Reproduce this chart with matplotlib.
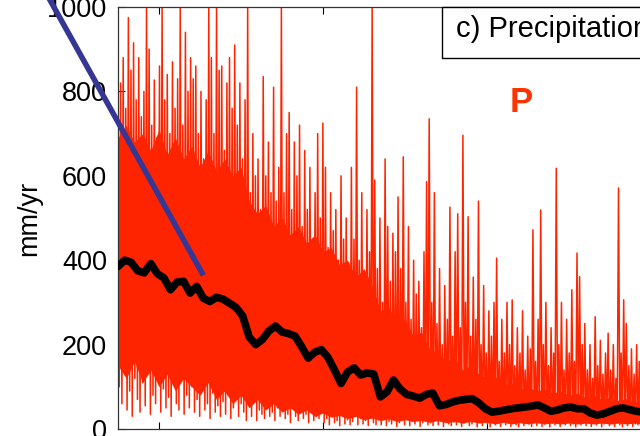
# Precipitation panel c) - noisy series with smoothed curve

import numpy as np
import matplotlib.pyplot as plt
from matplotlib.patches import Rectangle

plt.rcParams["font.family"] = ["Liberation Sans", "DejaVu Sans"]

# upper ends of the red strokes, left to right (mm/yr)
P_Tops = [
    700, 820, 880, 760, 975, 850, 915, 780, 880, 740,
    800, 1000, 900, 720, 827, 690, 860, 1000, 780, 840,
    700, 870, 760, 830, 1000, 720, 940, 800, 880, 830,
    860, 700, 800, 640, 780, 1000, 880, 700, 1000, 850,
    860, 660, 820, 880, 760, 910, 720, 820, 640, 780,
    1000, 560, 700, 600, 640, 520, 835, 600, 680, 560,
    810, 540, 620, 1000, 560, 700, 750, 520, 680, 600,
    720, 480, 660, 520, 620, 450, 560, 700, 500, 725,
    620, 430, 560, 470, 520, 400, 600, 450, 500, 380,
    620, 450, 810, 400, 560, 360, 520, 420, 1000, 590,
    380, 500, 300, 640, 480, 350, 464, 420, 550, 380,
    645, 300, 480, 260, 400, 320, 350, 240, 420, 586,
    735, 300, 560, 250, 380, 200, 340, 260, 526, 220,
    420, 510, 240, 696, 300, 503, 220, 360, 260, 540,
    200, 340, 180, 280, 220, 300, 405, 160, 260, 180,
    300, 200, 306, 150, 240, 180, 280, 140, 220, 190,
    472, 160, 260, 519, 200, 300, 150, 240, 180, 618,
    200, 300, 140, 260, 180, 330, 160, 417, 361, 200,
    250, 140, 200, 120, 266, 150, 210, 130, 180, 227,
    140, 200, 120, 571, 180, 306, 250, 150, 190, 130,
    200, 160, 240, 120, 180, 150, 220, 140, 190, 160,
]

# lower ends of the red strokes (mm/yr)
P_Bottoms = [
    100, 60, 150, 45, 90, 30, 120, 70, 40, 110,
    55, 130, 35, 80, 60, 140, 40, 95, 50, 75,
    30, 110, 60, 45, 125, 35, 80, 50, 100, 40,
    70, 30, 95, 45, 60, 25, 85, 40, 55, 30,
    65, 35, 80, 25, 50, 90, 30, 60, 40, 20,
    55, 30, 70, 20, 45, 35, 25, 60, 30, 40,
    20, 50, 30, 45, 25, 35, 15, 50, 30, 20,
    40, 25, 35, 15, 45, 20, 30, 25, 40, 15,
    25, 10, 30, 15, 20, 8, 35, 12, 22, 10,
    18, 30, 10, 25, 12, 20, 8, 28, 15, 10,
    22, 10, 30, 8, 18, 12, 25, 6, 15, 20,
    10, 25, 8, 18, 12, 22, 6, 15, 20, 10,
    15, 8, 22, 10, 18, 6, 25, 12, 8, 16,
    10, 20, 6, 14, 22, 8, 12, 18, 5, 15,
    8, 18, 12, 5, 20, 10, 15, 6, 22, 10,
    14, 6, 18, 10, 5, 16, 8, 20, 12, 6,
    15, 8, 20, 6, 12, 18, 5, 14, 10, 22,
    6, 16, 10, 20, 8, 12, 5, 18, 10, 14,
    8, 20, 6, 14, 10, 18, 5, 12, 16, 8,
    12, 6, 18, 10, 5, 15, 8, 20, 6, 12,
    10, 16, 6, 14, 8, 18, 5, 12, 10, 15,
]

# dense band where the red strokes merge (every 0.5 time units)
Core_Upper = [
    690, 720, 680, 700, 660, 710, 650, 690, 640, 670,
    620, 660, 610, 640, 600, 620, 540, 510, 530, 480,
    500, 460, 480, 440, 460, 420, 430, 390, 400, 360,
    380, 340, 280, 290, 250, 260, 220, 230, 190, 180,
    160, 170, 140, 150, 130, 120, 125, 105, 110, 95,
    100, 90, 95, 85, 90, 80, 85, 75, 80, 70,
    75, 68, 72, 65, 70, 65, 68,
]
Core_Lower = [
    150, 120, 160, 110, 140, 100, 130, 90, 120, 100,
    80, 110, 70, 90, 60, 80, 50, 70, 45, 60,
    40, 50, 35, 45, 30, 38, 28, 32, 25, 30,
    22, 26, 20, 24, 18, 22, 18, 20, 16, 20,
    15, 18, 14, 18, 14, 16, 12, 16, 12, 15,
    12, 15, 12, 14, 12, 14, 12, 14, 12, 14,
    12, 14, 12, 14, 12, 14, 12,
]

# smoothed precipitation (black curve), one value every 0.4 time units
P_Smooth = [
    385, 400, 395, 375, 370, 392, 368, 358, 330, 348,
    350, 322, 338, 310, 302, 312, 308, 298, 288, 268,
    218, 200, 212, 232, 244, 230, 226, 220, 195, 168,
    182, 188, 170, 140, 108, 135, 145, 128, 133, 130,
    76, 88, 116, 95, 82, 78, 73, 82, 85, 55,
    58, 64, 68, 70, 72, 62, 48, 40, 42, 45,
    48, 50, 52, 54, 57, 50, 42, 45, 50, 52,
    48, 48, 38, 33, 36, 42, 48, 50, 46, 42,
    40, 40, 42, 40,
]

# straight blue marker line (start / end)
Blue_X = [2.5, 12.62]
Blue_Y = [1076, 370]

Title = "c) Precipitation"
Red = "#ff2400"

# time axis of the samples
T_Start, T_End = 7.5, 40.55
N = len(P_Tops)
T_Tops = np.linspace(T_Start, T_End, N)
dT = T_Tops[1] - T_Tops[0]
T_Bottoms = T_Tops + dT / 2

T_Red = np.column_stack([T_Tops, T_Bottoms]).ravel()
P_Red = np.column_stack([P_Tops, P_Bottoms]).ravel()

T_Core = T_Start + 0.5 * np.arange(len(Core_Upper))
T_Smooth = T_Start + 0.4 * np.arange(len(P_Smooth))


fig = plt.figure(figsize= (6.4, 4.36), dpi= 100)
ax = fig.add_axes([118 / 640, 7 / 436, 542 / 640, 422 / 436])

ax.fill_between(T_Core, Core_Lower, Core_Upper, color= Red, linewidth= 0, zorder= 2)
ax.plot(T_Red, P_Red, color= Red, linewidth= 1.1, zorder= 2)
ax.plot(T_Smooth, P_Smooth, color= "black", linewidth= 5.5, solid_capstyle= "round", zorder= 3)
ax.plot(Blue_X, Blue_Y, color= "#363795", linewidth= 4, clip_on= False, zorder= 4)

ax.set_xlim(T_Start, T_End)
ax.set_ylim(0, 1000)
ax.set_xticks([10, 20, 30, 40])
ax.set_yticks([0, 200, 400, 600, 800, 1000])

ax.tick_params(direction= "in", length= 5, width= 0.8, labelsize= 19.5, pad= 8,
               top= True, right= True, labelbottom= False)
for side in ax.spines.values():
    side.set_color("#333333")
    side.set_linewidth(0.9)

ax.set_ylabel("mm/yr", fontsize= 19.5)
ax.yaxis.set_label_coords(-0.14, 0.5)

# title box in the top right corner
box = Rectangle((0.598, 0.879), 0.6, 0.121, transform= ax.transAxes,
                facecolor= "white", edgecolor= "black", linewidth= 1.0,
                clip_on= False, zorder= 5)
ax.add_patch(box)
ax.text(0.6236, 0.929, Title, transform= ax.transAxes, fontsize= 21,
        ha= "left", va= "baseline", zorder= 6)

ax.text(31.4, 751, "P", color= "#ff3300", fontsize= 25, fontweight= "bold",
        ha= "left", va= "baseline", zorder= 6)

plt.savefig("out.png", dpi= 100)
